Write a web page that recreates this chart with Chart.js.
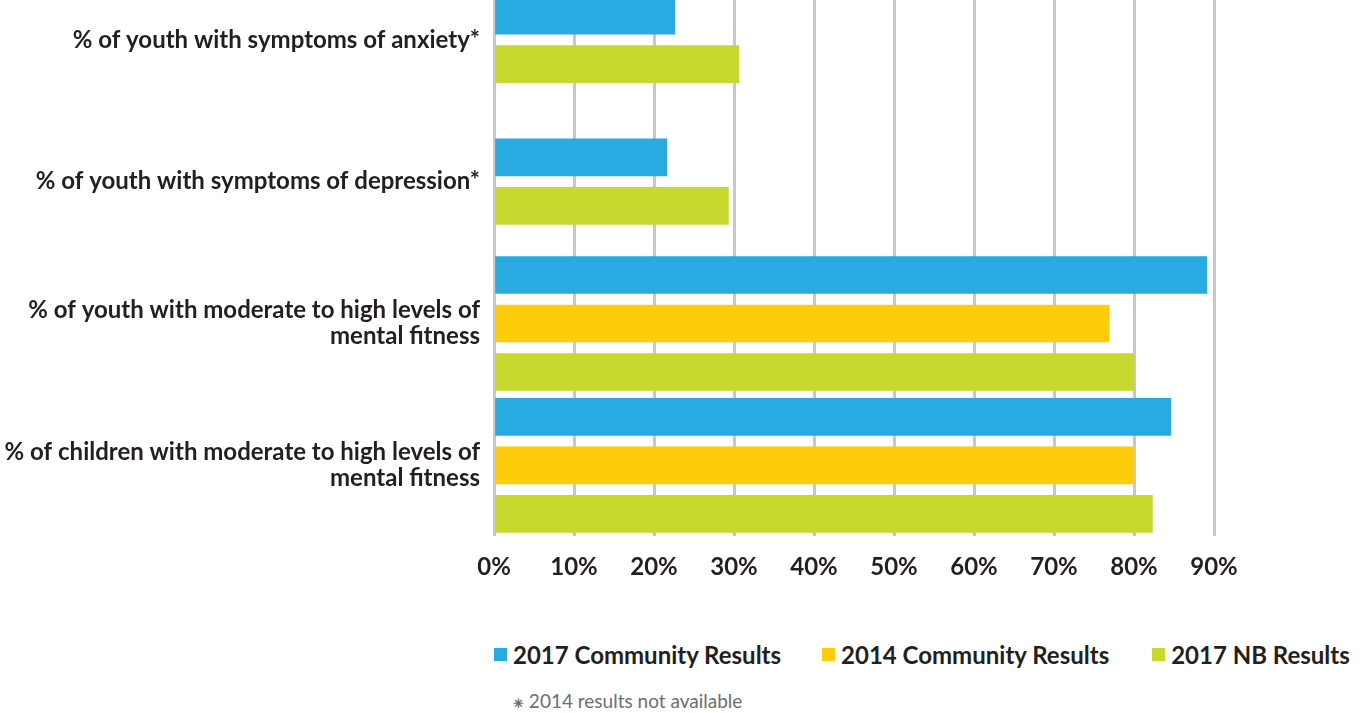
<!DOCTYPE html>
<html>
<head>
<meta charset="utf-8">
<script src="https://cdn.jsdelivr.net/npm/chart.js@4.4.1/dist/chart.umd.min.js"></script>
<style>
  body { margin: 0; background: #fff; font-family: Lato, "Open Sans", sans-serif; overflow: hidden; }
  #wrap { position: relative; width: 1367px; height: 713px; overflow: hidden; }
  /* canvas shifted up so the first group sits close to the top edge */
  #chartBox { position: absolute; left: 0; top: -81px; width: 1367px; height: 700px; }
  #legend { position: absolute; left: 494px; top: 640px; display: flex; font-weight: bold; font-size: 24px; color: #231f20; }
  .leg-item { display: flex; align-items: center; white-space: nowrap; }
  .leg-box { width: 13px; height: 13px; margin-right: 6px; }
  #note { position: absolute; left: 513px; top: 688px; font-size: 19px; color: #6d6e71; }
</style>
</head>
<body>
<div id="wrap">
  <div id="chartBox"><canvas id="mentalChart"></canvas></div>
  <div id="legend"></div>
  <div id="note">⁕ 2014 results not available</div>
</div>
<script>
const categories = [
    '% of youth with symptoms of anxiety*',
    '% of youth with symptoms of depression*',
    ['% of youth with moderate to high levels of', 'mental fitness'],
    ['% of children with moderate to high levels of', 'mental fitness']
];
const community2017 = [22.6, 21.6, 89.1, 84.6];
const community2014 = [null, null, 76.9, 80.0];
const nb2017 = [30.6, 29.3, 80.0, 82.3];
const tickValues = [0, 10, 20, 30, 40, 50, 60, 70, 80, 90];

const BLUE = '#29aae1';
const YELLOW = '#ffcc0b';
const GREEN = '#c7d92f';
const TEXT = '#231f20';

const datasets = [
    { label: '2017 Community Results', data: community2017, backgroundColor: BLUE },
    { label: '2014 Community Results', data: community2014, backgroundColor: YELLOW },
    { label: '2017 NB Results', data: nb2017, backgroundColor: GREEN }
];

// bars: fixed pitch via barThickness, drawn width capped by maxBarThickness
datasets.forEach(ds => {
    ds.skipNull = true;
    ds.barThickness = 48.5;
    ds.maxBarThickness = 37;
});

const ctx = document.getElementById('mentalChart').getContext('2d');
const myChart = new Chart(ctx, {
    type: 'bar',
    data: { labels: categories, datasets: datasets },
    options: {
        indexAxis: 'y',
        responsive: true,
        maintainAspectRatio: false,
        animation: false,
        layout: { padding: { top: 50, right: 153, bottom: 20, left: 0 } },
        plugins: {
            legend: { display: false },
            tooltip: { enabled: false }
        },
        scales: {
            x: {
                min: 0,
                max: 90,
                afterBuildTicks: (scale) => {
                    scale.ticks = tickValues.map(v => ({ value: v }));
                },
                grid: { color: '#c8c8c8', lineWidth: 3, drawTicks: false },
                border: { display: false },
                ticks: {
                    padding: 17,
                    color: TEXT,
                    font: { family: 'Lato', size: 24, weight: 'bold' },
                    callback: (v) => v + '%'
                }
            },
            y: {
                afterFit: (scale) => { scale.width = 494; },
                grid: { display: false, drawTicks: false },
                border: { display: false },
                ticks: {
                    padding: 14,
                    color: TEXT,
                    font: { family: 'Lato', size: 24, weight: 'bold', lineHeight: 1.1 }
                }
            }
        }
    }
});

// Build the legend below the chart
const legend = document.getElementById('legend');
const gaps = [0, 41, 43];
datasets.forEach((ds, i) => {
    const item = document.createElement('div');
    item.className = 'leg-item';
    item.style.marginLeft = gaps[i] + 'px';
    item.innerHTML = `<span class="leg-box" style="background:${ds.backgroundColor}"></span>${ds.label}`;
    legend.appendChild(item);
});
</script>
</body>
</html>
